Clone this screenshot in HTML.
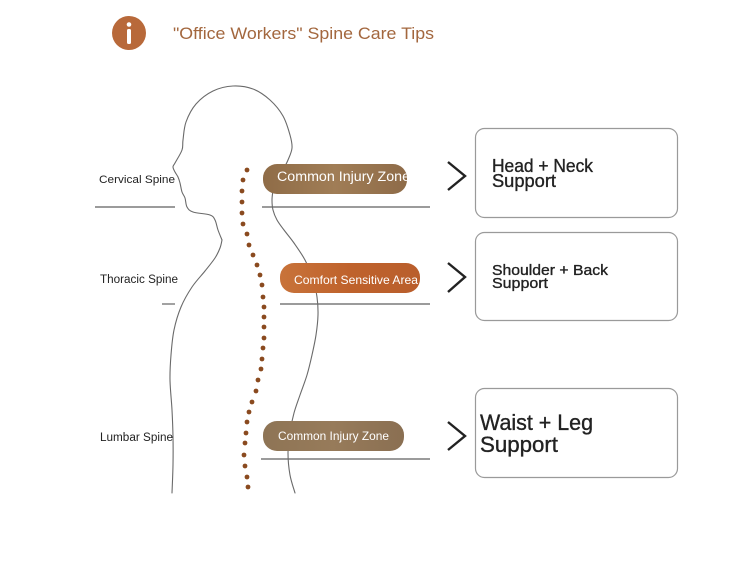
<!DOCTYPE html>
<html><head><meta charset="utf-8"><style>
html,body{margin:0;padding:0;background:#fff;}
svg{display:block;}
text{font-family:"Liberation Sans",Arial,sans-serif;}
</style></head><body>
<svg width="750" height="562" viewBox="0 0 750 562" xmlns="http://www.w3.org/2000/svg">
<defs>
<linearGradient id="g1" x1="0" y1="0" x2="1" y2="0">
<stop offset="0" stop-color="#8f6c47"/><stop offset="0.5" stop-color="#a07d56"/><stop offset="1" stop-color="#8e6b48"/>
</linearGradient>
<linearGradient id="g2" x1="0" y1="0" x2="1" y2="0">
<stop offset="0" stop-color="#c8733a"/><stop offset="0.5" stop-color="#bf622c"/><stop offset="1" stop-color="#b95e2c"/>
</linearGradient>
<linearGradient id="g3" x1="0" y1="0" x2="1" y2="0">
<stop offset="0" stop-color="#8e7455"/><stop offset="0.5" stop-color="#977b5a"/><stop offset="1" stop-color="#8a6f52"/>
</linearGradient>
<clipPath id="c1"><rect x="263" y="164" width="144" height="30" rx="14"/></clipPath>
</defs>
<rect width="750" height="562" fill="#fff"/>

<!-- Title -->
<circle cx="129" cy="33" r="17" fill="#b8693a"/>
<circle cx="129" cy="24.5" r="2.3" fill="#fff"/>
<rect x="127" y="29" width="4" height="15" rx="1.5" fill="#fff"/>
<text x="173" y="39" font-size="17" fill="#a3673e" textLength="261" lengthAdjust="spacingAndGlyphs">"Office Workers" Spine Care Tips</text>

<!-- horizontal lines -->
<g stroke="#7a7a7a" stroke-width="1.4">
<line x1="95" y1="207" x2="175" y2="207"/>
<line x1="262" y1="207" x2="430" y2="207"/>
<line x1="162" y1="304" x2="175" y2="304"/>
<line x1="280" y1="304" x2="430" y2="304"/>
<line x1="261" y1="459" x2="430" y2="459"/>
</g>

<!-- body outline (smoothed) -->
<g fill="none" stroke="#6a6a6a" stroke-width="1.1" stroke-linejoin="round" stroke-linecap="round">
<path id="p1" d="M222,240 L218,230 L215,220 L210,215 L193,212 L187,207 L185,198 L182,192 L180,183 L178,177 L175,172 L173,167 L175,163 L182,150 L183,140 L186,122 L196,104 L213,91 L233,86 L253,89 L270,100 L283,116 L290,135 L292,148 L288,160 L283,170"/>
<path id="p2" d="M273,190 L272,200 L273,210 L277,220 L284,230 L294,243 L305,260 L313,279 L317,297 L318,315 L316,335 L312,355 L307,375 L300,395 L294,413 L290,432 L288,453 L290,475 L295,493"/>
<path id="p3" d="M222,240 L220,248 L215,258 L205,271 L192,287 L181,307 L174,330 L171,355 L170,380 L172,410 L173,437 L173,465 L172,493"/>
</g>

<!-- spine dots -->
<g fill="#8a4a1f">
<circle cx="247" cy="170" r="2.4"/><circle cx="243" cy="180" r="2.4"/><circle cx="242" cy="191" r="2.4"/>
<circle cx="242" cy="202" r="2.4"/><circle cx="242" cy="213" r="2.4"/><circle cx="243" cy="224" r="2.4"/>
<circle cx="247" cy="234" r="2.4"/><circle cx="249" cy="245" r="2.4"/><circle cx="253" cy="255" r="2.4"/>
<circle cx="257" cy="265" r="2.4"/><circle cx="260" cy="275" r="2.4"/><circle cx="262" cy="285" r="2.4"/>
<circle cx="263" cy="297" r="2.4"/><circle cx="264" cy="307" r="2.4"/><circle cx="264" cy="317" r="2.4"/>
<circle cx="264" cy="327" r="2.4"/><circle cx="264" cy="338" r="2.4"/><circle cx="263" cy="348" r="2.4"/>
<circle cx="262" cy="359" r="2.4"/><circle cx="261" cy="369" r="2.4"/><circle cx="258" cy="380" r="2.4"/>
<circle cx="256" cy="391" r="2.4"/><circle cx="252" cy="402" r="2.4"/><circle cx="249" cy="412" r="2.4"/>
<circle cx="247" cy="422" r="2.4"/><circle cx="246" cy="433" r="2.4"/><circle cx="245" cy="443" r="2.4"/>
<circle cx="244" cy="455" r="2.4"/><circle cx="245" cy="466" r="2.4"/><circle cx="247" cy="477" r="2.4"/>
<circle cx="248" cy="487" r="2.4"/>
</g>

<!-- left labels -->
<text x="99" y="183" font-size="11" fill="#222" textLength="76" lengthAdjust="spacingAndGlyphs">Cervical Spine</text>
<text x="100" y="283" font-size="11.5" fill="#222" textLength="78" lengthAdjust="spacingAndGlyphs">Thoracic Spine</text>
<text x="100" y="441" font-size="11.5" fill="#222" textLength="73" lengthAdjust="spacingAndGlyphs">Lumbar Spine</text>

<!-- pills -->
<rect x="263" y="164" width="144" height="30" rx="14" fill="url(#g1)"/>
<g clip-path="url(#c1)">
<text x="277" y="181" font-size="13.5" fill="#fff" textLength="133" lengthAdjust="spacingAndGlyphs">Common Injury Zone</text>
</g>
<rect x="280" y="263" width="140" height="30" rx="14" fill="url(#g2)"/>
<text x="294" y="284" font-size="12" fill="#fff" textLength="124" lengthAdjust="spacingAndGlyphs">Comfort Sensitive Area</text>
<rect x="263" y="421" width="141" height="30" rx="14" fill="url(#g3)"/>
<text x="278" y="440" font-size="12" fill="#fff" textLength="111" lengthAdjust="spacingAndGlyphs">Common Injury Zone</text>

<!-- chevrons -->
<g fill="none" stroke="#222" stroke-width="2.4" stroke-linejoin="miter">
<polyline points="448,162 465,176 448,190"/>
<polyline points="448,263 465,277 448,292"/>
<polyline points="448,422 465,436 448,450"/>
</g>

<!-- boxes -->
<g fill="#fff" stroke="#9a9a9a" stroke-width="1.2">
<rect x="475.5" y="128.5" width="202" height="89" rx="9"/>
<rect x="475.5" y="232.5" width="202" height="88" rx="9"/>
<rect x="475.5" y="388.5" width="202" height="89" rx="9"/>
</g>
<g fill="#222" stroke="#222" stroke-width="0.35">
<text x="492" y="172" font-size="18" textLength="101" lengthAdjust="spacingAndGlyphs">Head + Neck</text>
<text x="492" y="187" font-size="18" textLength="64" lengthAdjust="spacingAndGlyphs">Support</text>
<text x="492" y="275" font-size="15" textLength="116" lengthAdjust="spacingAndGlyphs">Shoulder + Back</text>
<text x="492" y="288" font-size="15" textLength="56" lengthAdjust="spacingAndGlyphs">Support</text>
<text x="480" y="430" font-size="22" textLength="113" lengthAdjust="spacingAndGlyphs">Waist + Leg</text>
<text x="480" y="452" font-size="22" textLength="78" lengthAdjust="spacingAndGlyphs">Support</text>
</g>
</svg>
<script>
(function(){
  ['p1','p2','p3'].forEach(function(id){
    var el=document.getElementById(id);
    var nums=el.getAttribute('d').match(/-?\d+(\.\d+)?/g).map(Number);
    var P=[];for(var i=0;i<nums.length;i+=2)P.push([nums[i],nums[i+1]]);
    var d='M'+P[0][0]+','+P[0][1];
    for(var i=0;i<P.length-1;i++){
      var p0=P[i-1]||P[i],p1=P[i],p2=P[i+1],p3=P[i+2]||P[i+1];
      var c1x=p1[0]+(p2[0]-p0[0])/6,c1y=p1[1]+(p2[1]-p0[1])/6;
      var c2x=p2[0]-(p3[0]-p1[0])/6,c2y=p2[1]-(p3[1]-p1[1])/6;
      d+=' C'+c1x.toFixed(2)+','+c1y.toFixed(2)+' '+c2x.toFixed(2)+','+c2y.toFixed(2)+' '+p2[0]+','+p2[1];
    }
    el.setAttribute('d',d);
  });
})();
</script>
</body></html>
